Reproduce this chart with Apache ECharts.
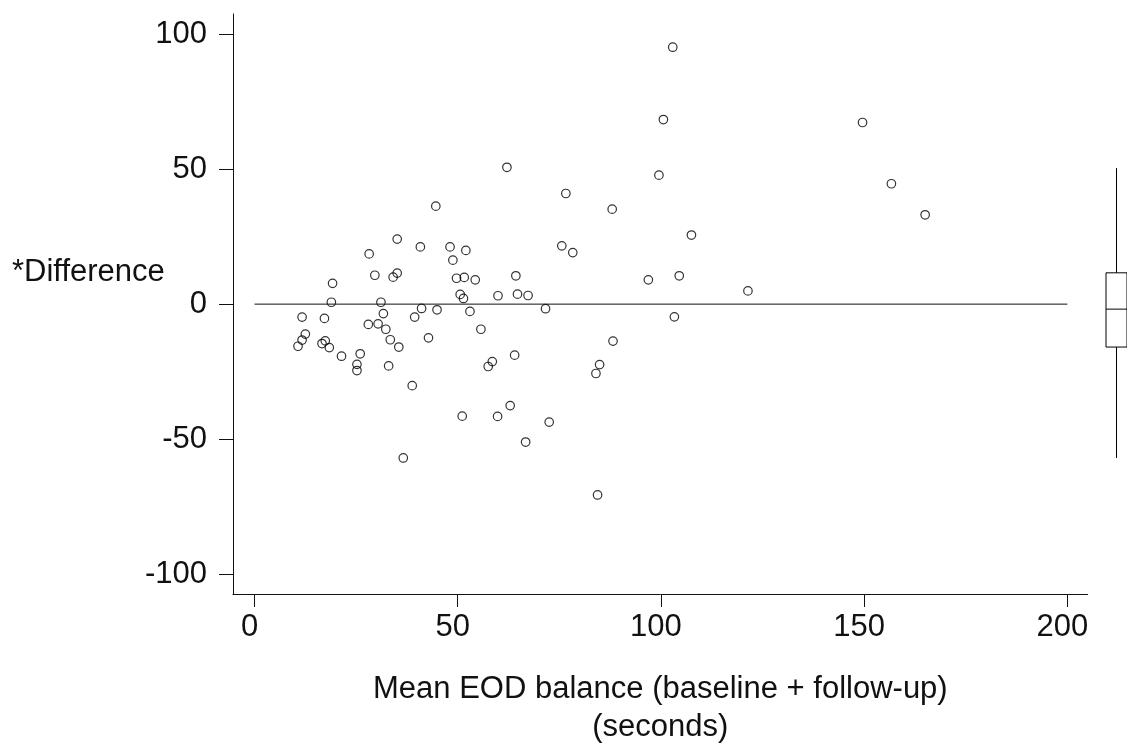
<!DOCTYPE html>
<html>
<head>
<meta charset="utf-8">
<script src="https://cdn.jsdelivr.net/npm/echarts@6/dist/echarts.min.js"></script>
<style>
	html, body { margin: 0; padding: 0; background: #fff; }
	#chart { width: 1127px; height: 743px; }
</style>
</head>
<body>
<div id="chart"></div>
<script>
// mean of baseline and follow-up (seconds)
const meanX = [
	44.6, 35.1, 40.8, 48.1, 52.0, 48.8, 28.2, 19.2, 29.6, 34.1,
	35.1, 49.7, 51.6, 54.3, 18.9, 31.1, 50.6, 51.4, 59.9, 11.7,
	17.2, 31.7, 41.1, 44.9, 39.4, 53.0, 28.0, 30.4, 32.3, 55.7,
	12.5, 11.7, 10.7, 17.4, 16.6, 18.4, 33.4, 35.5, 42.8, 21.4,
	26.0, 25.2, 25.2, 33.0, 58.5, 57.5, 38.8, 51.1, 59.8, 36.6,
	62.1, 76.6, 88.0, 99.5, 107.5, 75.6, 78.3, 64.3, 96.9, 104.5,
	64.7, 67.3, 71.6, 103.3, 88.2, 64.0, 84.9, 84.0, 62.9, 72.5,
	66.7, 84.4, 102.9, 100.6, 149.6, 156.7, 165.0, 121.4
]
// difference (follow-up - baseline)
const diffY = [
	36.3, 24.1, 21.2, 21.2, 19.9, 16.3, 18.6, 7.7, 10.7, 10.0,
	11.5, 9.6, 9.9, 9.0, 0.7, 0.7, 3.6, 2.1, 3.1, -4.8,
	-5.3, -3.5, -1.6, -2.1, -4.8, -2.7, -7.5, -7.3, -9.3, -9.3,
	-11.1, -13.3, -15.6, -13.6, -14.6, -16.1, -13.2, -15.9, -12.5, -19.3,
	-18.4, -22.3, -24.6, -22.9, -21.3, -23.1, -30.2, -41.5, -41.6, -57.0,
	50.7, 41.0, 35.2, 47.8, 25.6, 21.6, 19.1, 10.5, 9.0, 10.5,
	3.7, 3.2, -1.7, -4.7, -13.7, -18.9, -22.4, -25.7, -37.6, -43.7,
	-51.1, -70.7, 95.2, 68.4, 67.3, 44.6, 33.1, 4.9
]
// reference line at zero difference
const zeroLine = [[0, 0], [200, 0]]
// box of the differences: lower whisker, Q1, median, Q3, upper whisker
const diffBox = [-57.0, -15.9, -1.85, 11.6, 50.4]

const xTicks = [0, 50, 100, 150, 200]
const yTicks = [-100, -50, 0, 50, 100]

const font = 'Liberation Sans, Arial, Helvetica, sans-serif'
const ink = '#111'
const yMin = -107.4
const yMax = 107.5

const points = meanX.map((x, i) => [x, diffY[i]])

const chart = echarts.init(document.getElementById('chart'))

chart.setOption({
	animation: false,
	backgroundColor: '#fff',
	title: {
		text: '*Difference',
		left: 12,
		top: 257,
		padding: 0,
		textStyle: { fontFamily: font, fontSize: 31, fontWeight: 'normal', color: ink }
	},
	grid: [
		{ left: 233, right: 39.3, top: 14, bottom: 149, outerBoundsMode: 'none', containLabel: false },
		{ left: 1106, right: 0, top: 14, bottom: 149, outerBoundsMode: 'none', containLabel: false }
	],
	xAxis: [{
		type: 'value',
		gridIndex: 0,
		min: -5.3,
		max: 205,
		splitLine: { show: false },
		axisLine: { show: true, onZero: false, lineStyle: { color: ink, width: 1 } },
		axisTick: { show: true, length: 13, customValues: xTicks, lineStyle: { color: ink } },
		axisLabel: {
			customValues: xTicks,
			margin: 18,
			padding: [0, 10, 0, 0],
			fontFamily: font,
			fontSize: 31,
			color: ink
		},
		name: 'Mean EOD balance (baseline + follow-up)\n(seconds)',
		nameLocation: 'middle',
		nameGap: 76,
		nameTextStyle: { fontFamily: font, fontSize: 31, color: ink, lineHeight: 38 }
	}, {
		type: 'category',
		gridIndex: 1,
		data: ['diff'],
		show: false
	}],
	yAxis: [{
		type: 'value',
		gridIndex: 0,
		min: yMin,
		max: yMax,
		splitLine: { show: false },
		axisLine: { show: true, onZero: false, lineStyle: { color: ink, width: 1 } },
		axisTick: { show: true, length: 14, customValues: yTicks, lineStyle: { color: ink } },
		axisLabel: {
			customValues: yTicks,
			margin: 26,
			fontFamily: font,
			fontSize: 31,
			color: ink
		}
	}, {
		type: 'value',
		gridIndex: 1,
		min: yMin,
		max: yMax,
		show: false
	}],
	series: [{
		type: 'line',
		xAxisIndex: 0,
		yAxisIndex: 0,
		data: zeroLine,
		symbol: 'none',
		silent: true,
		lineStyle: { color: ink, width: 1 }
	}, {
		type: 'scatter',
		xAxisIndex: 0,
		yAxisIndex: 0,
		data: points,
		symbol: 'circle',
		symbolSize: 8.5,
		itemStyle: { color: 'rgba(0,0,0,0)', borderColor: '#000', borderWidth: 1.2 }
	}, {
		type: 'custom',
		xAxisIndex: 1,
		yAxisIndex: 1,
		data: [[0].concat(diffBox)],
		encode: { x: 0, y: [1, 2, 3, 4, 5] },
		renderItem: (params, api) => {
			const cx = api.coord([api.value(0), 0])[0]
			const half = api.size([1, 0])[0] / 2
			const yOf = v => api.coord([api.value(0), v])[1]
			const lo = yOf(api.value(1))
			const q1 = yOf(api.value(2))
			const med = yOf(api.value(3))
			const q3 = yOf(api.value(4))
			const hi = yOf(api.value(5))
			const stroke = { stroke: '#000', lineWidth: 1, fill: null }
			return {
				type: 'group',
				children: [
					{ type: 'line', shape: { x1: cx, y1: hi, x2: cx, y2: q3 }, style: stroke },
					{ type: 'line', shape: { x1: cx, y1: q1, x2: cx, y2: lo }, style: stroke },
					{ type: 'rect', shape: { x: cx - half, y: q3, width: half * 2, height: q1 - q3 }, style: stroke },
					{ type: 'line', shape: { x1: cx - half, y1: med, x2: cx + half, y2: med }, style: stroke }
				]
			}
		}
	}]
})
</script>
</body>
</html>
